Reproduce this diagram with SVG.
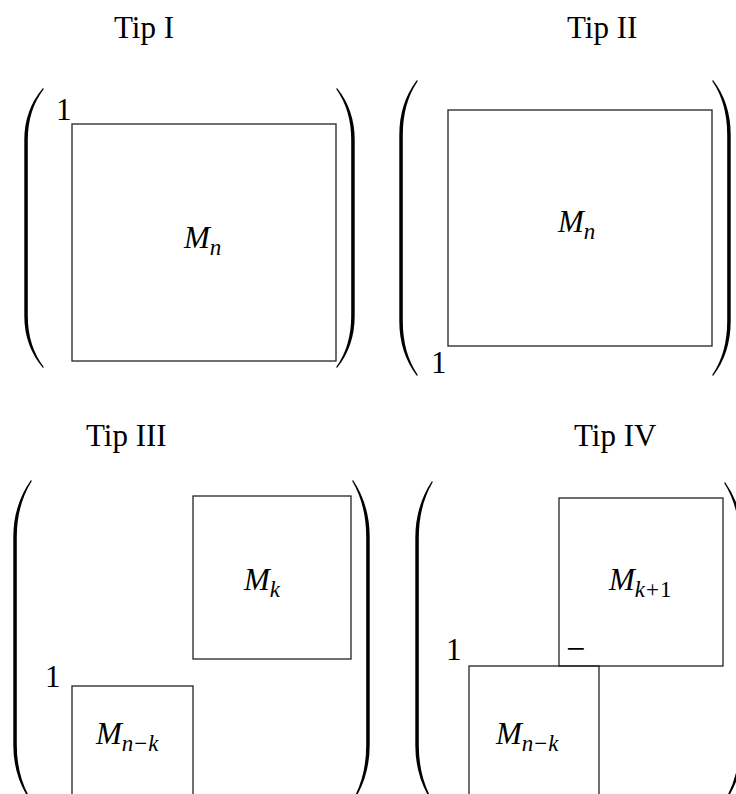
<svg xmlns="http://www.w3.org/2000/svg" width="736" height="794" viewBox="0 0 736 794">
<style>
.t{font-family:"Liberation Serif","Times New Roman",serif;font-size:31px;fill:#000}
.m{font-style:italic}
.s{font-size:23px}
.box{fill:none;stroke:#222;stroke-width:1.3}
.br{fill:#000;stroke:none}
</style>
<rect width="736" height="794" fill="#fff"/>
<g id="tip1">
<text class="t" x="114" y="38">Tip I</text>
<path class="br" d="M43,88 Q24.3,110 24.3,140 L24.3,316 Q24.3,346 43,368 L43.8,367 Q27.8,346 27.8,316 L27.8,140 Q27.8,110 43.8,89 Z"/>
<path class="br" d="M337,88 Q354.7,110 354.7,140 L354.7,316 Q354.7,346 337,368 L336.2,367 Q351.2,346 351.2,316 L351.2,140 Q351.2,110 336.2,89 Z"/>
<text class="t" x="56" y="120">1</text>
<g id="box1"><rect class="box" x="72" y="124" width="264" height="237"/>
<text class="t" x="184" y="248"><tspan class="m">M</tspan><tspan class="m s" dy="7">n</tspan></text></g>
</g>
<g id="tip2">
<text class="t" x="567" y="38">Tip II</text>
<path class="br" d="M417,80 Q399.3,103 399.3,135 L399.3,321 Q399.3,353 417,376 L417.8,375 Q402.8,353 402.8,321 L402.8,135 Q402.8,103 417.8,81 Z"/>
<path class="br" d="M713,80 Q730.7,103 730.7,135 L730.7,321 Q730.7,353 713,376 L712.2,375 Q727.2,353 727.2,321 L727.2,135 Q727.2,103 712.2,81 Z"/>
<text class="t" x="431" y="373">1</text>
<g id="box2"><rect class="box" x="448" y="110" width="264" height="236"/>
<text class="t" x="558" y="232"><tspan class="m">M</tspan><tspan class="m s" dy="7">n</tspan></text></g>
</g>
<g id="tip3">
<text class="t" x="86" y="446">Tip III</text>
<path class="br" d="M31,480 Q13.3,505 13.3,537 L13.3,745 Q13.3,777 31,802 L31.8,801 Q16.8,777 16.8,745 L16.8,537 Q16.8,505 31.8,481 Z"/>
<path class="br" d="M353,480 Q369.7,505 369.7,537 L369.7,745 Q369.7,777 353,802 L352.2,801 Q366.2,777 366.2,745 L366.2,537 Q366.2,505 352.2,481 Z"/>
<text class="t" x="45" y="687">1</text>
<g id="box3a"><rect class="box" x="193" y="496" width="158" height="163"/>
<text class="t" x="244" y="590"><tspan class="m">M</tspan><tspan class="m s" dy="7">k</tspan></text></g>
<g id="box3b"><rect class="box" x="72" y="686" width="121" height="120"/>
<text class="t" x="96" y="744"><tspan class="m">M</tspan><tspan class="s" dy="7"><tspan class="m">n</tspan><tspan dx="1">−</tspan><tspan class="m" dx="1">k</tspan></tspan></text></g>
</g>
<g id="tip4">
<text class="t" x="574" y="446">Tip IV</text>
<path class="br" d="M432,481 Q415.3,506 415.3,538 L415.3,745 Q415.3,777 432,802 L432.8,801 Q418.8,777 418.8,745 L418.8,538 Q418.8,506 432.8,482 Z"/>
<path class="br" d="M725,482 Q742.7,507 742.7,539 L742.7,745 Q742.7,777 725,802 L724.2,801 Q739.2,777 739.2,745 L739.2,539 Q739.2,507 724.2,483 Z"/>
<text class="t" x="446" y="660">1</text>
<g id="box4a"><rect class="box" x="559" y="498" width="164" height="168"/>
<text class="t" x="609" y="590"><tspan class="m">M</tspan><tspan class="s" dy="7"><tspan class="m">k</tspan><tspan dx="1">+</tspan><tspan dx="1">1</tspan></tspan></text>
<text class="t" x="566" y="660" style="font-size:34px">−</text></g>
<g id="box4b"><rect class="box" x="469" y="666" width="130" height="140"/>
<text class="t" x="496" y="744"><tspan class="m">M</tspan><tspan class="s" dy="7"><tspan class="m">n</tspan><tspan dx="1">−</tspan><tspan class="m" dx="1">k</tspan></tspan></text></g>
</g>
</svg>
